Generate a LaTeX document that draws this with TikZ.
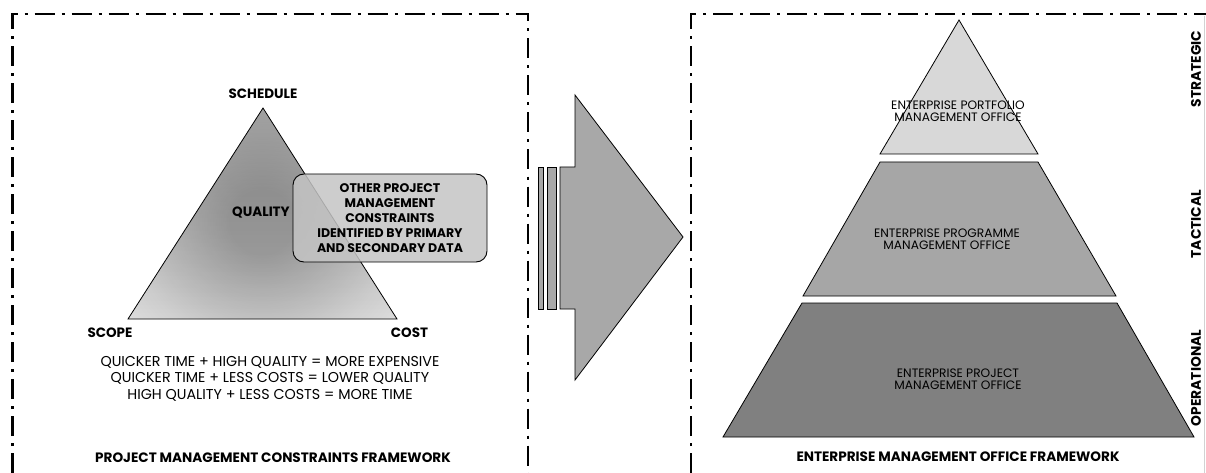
\documentclass[tikz,border=0pt]{standalone}
\usepackage{fontspec}
\usetikzlibrary{fadings}
\setmainfont{Poppins}
\definecolor{tierA}{HTML}{D8D8D8}
\definecolor{tierB}{HTML}{A6A6A6}
\definecolor{tierC}{HTML}{808080}
\definecolor{arrowgray}{HTML}{A8A8A8}
\definecolor{boxgray}{HTML}{C4C4C4}
\definecolor{apexgray}{HTML}{CCCCCC}
% dark spot around QUALITY, fading out towards the triangle edges
\pgfdeclareradialshading{spotshade}{\pgfpoint{0bp}{0bp}}{%
  color(0bp)=(white); color(4bp)=(white); color(16bp)=(gray);
  color(34bp)=(black); color(50bp)=(black)}
\pgfdeclarefading{spotfade}{\pgfuseshading{spotshade}}
\begin{document}
\begin{tikzpicture}[x=1pt,y=-1pt,
  frameline/.style={line width=2.3pt, dash pattern=on 20pt off 7pt on 3pt off 7pt},
  outline/.style={draw=black, line width=0.8pt},
  corner/.style={font=\bfseries\fontsize{13.5}{15}\selectfont, inner sep=0pt},
  eqn/.style={font=\fontsize{14.3}{16.5}\selectfont, align=center, inner sep=0pt},
  tiertext/.style={font=\fontsize{12.2}{12}\selectfont, align=center, inner sep=0pt},
  caption/.style={font=\bfseries\fontsize{13.6}{15}\selectfont, inner sep=0pt},
  level/.style={font=\bfseries\fontsize{13.8}{15}\selectfont, inner sep=0pt, rotate=90}]
\useasboundingbox (0,0) rectangle (1206,473);

% ---------- frames ----------
\draw[frameline] (12.5,473) -- (12.5,14) -- (528,14) -- (528,473);
\draw[frameline] (691,473) -- (691,14) -- (1206,14);
\draw[gray!35, line width=1.2pt] (1204.5,16) -- (1204.5,473);

% ---------- constraints triangle ----------
\begin{scope}
  \clip (263,108) -- (397,319) -- (128,319) -- cycle;
  \shade[top color=apexgray, bottom color=white] (128,108) rectangle (397,319);
  \fill[black, fill opacity=0.36, path fading=spotfade, fit fading=true]
    (62,22) rectangle (462,422);
\end{scope}
\draw[outline, line join=miter] (263,108) -- (397,319) -- (128,319) -- cycle;

\node[corner] (schedule) at (263,94) {SCHEDULE};
\node[corner] (scope) at (110,333) {SCOPE};
\node[corner] (cost) at (409.5,333) {COST};
\node[corner] (quality) at (261,213) {QUALITY};

\node[draw=black, line width=0.9pt, rounded corners=11pt, fill=boxgray,
      fill opacity=0.85, text opacity=1, minimum width=194pt, minimum height=88pt,
      align=center, font=\bfseries\fontsize{12.5}{15}\selectfont] (other) at (390,218)
  {OTHER PROJECT\\MANAGEMENT\\CONSTRAINTS\\IDENTIFIED BY PRIMARY\\AND SECONDARY DATA};

\node[eqn] (rules) at (270,378.5)
  {QUICKER TIME + HIGH QUALITY = MORE EXPENSIVE\\
   QUICKER TIME + LESS COSTS = LOWER QUALITY\\
   HIGH QUALITY + LESS COSTS = MORE TIME};

\node[caption] (leftcap) at (273,458) {PROJECT MANAGEMENT CONSTRAINTS FRAMEWORK};

% ---------- transition arrow ----------
\filldraw[outline, fill=arrowgray] (538,167) rectangle (543,309);
\filldraw[outline, fill=arrowgray] (547,167) rectangle (556,309);
\filldraw[outline, fill=arrowgray, line join=miter]
  (560,167) -- (575,167) -- (575,95) -- (683,237) -- (575,380) -- (575,309) -- (560,309) -- cycle;

% ---------- management office pyramid ----------
\filldraw[outline, fill=tierA, line join=miter] (959,20) -- (1038,154) -- (880,154) -- cycle;
\filldraw[outline, fill=tierB] (880,162) -- (1038,162) -- (1116,296) -- (803,296) -- cycle;
\filldraw[outline, fill=tierC] (802,303) -- (1117,303) -- (1194,437) -- (723,437) -- cycle;

\node[tiertext] (portfolio) at (958,111) {ENTERPRISE PORTFOLIO\\MANAGEMENT OFFICE};
\node[tiertext] (programme) at (947,239) {ENTERPRISE PROGRAMME\\MANAGEMENT OFFICE};
\node[tiertext] (project) at (958,379) {ENTERPRISE PROJECT\\MANAGEMENT OFFICE};

\node[level] (strategic) at (1196,69) {STRATEGIC};
\node[level] (tactical) at (1196,224) {TACTICAL};
\node[level] (operational) at (1196,378) {OPERATIONAL};

\node[caption] (rightcap) at (958,457) {ENTERPRISE MANAGEMENT OFFICE FRAMEWORK};
\end{tikzpicture}
\end{document}
